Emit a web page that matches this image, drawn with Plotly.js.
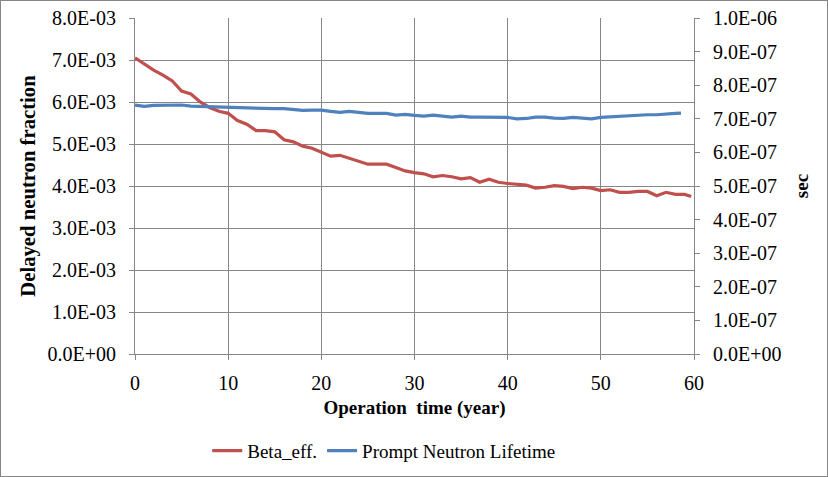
<!DOCTYPE html>
<html>
<head>
<meta charset="utf-8">
<script src="https://cdn.plot.ly/plotly-3.0.1.min.js"></script>
<style>
html,body{margin:0;padding:0;background:#fff;}
#wrap{width:828px;height:477px;box-sizing:border-box;border:1px solid #868686;position:relative;overflow:hidden;}
#chart{position:absolute;left:-1px;top:-1px;width:828px;height:477px;}
</style>
</head>
<body>
<div id="wrap"><div id="chart"></div></div>
<script>
// Beta_eff. (delayed neutron fraction), left axis
const betaYears = [0,1,2,3,4,5,6,7,8,9,10,11,12,13,14,15,16,17,18,19,20,21,22,23,24,25,26,27,28,29,30,31,32,33,34,35,36,37,38,39,40,41,42,43,44,45,46,47,48,49,50,51,52,53,54,55,56,57,58,59,59.7];
const betaEff = [7.05e-3,6.90e-3,6.76e-3,6.64e-3,6.50e-3,6.26e-3,6.19e-3,6.00e-3,5.87e-3,5.78e-3,5.73e-3,5.56e-3,5.47e-3,5.32e-3,5.32e-3,5.29e-3,5.10e-3,5.05e-3,4.95e-3,4.90e-3,4.80e-3,4.71e-3,4.73e-3,4.66e-3,4.58e-3,4.52e-3,4.52e-3,4.52e-3,4.44e-3,4.36e-3,4.32e-3,4.29e-3,4.22e-3,4.25e-3,4.22e-3,4.17e-3,4.20e-3,4.09e-3,4.16e-3,4.09e-3,4.06e-3,4.04e-3,4.02e-3,3.95e-3,3.97e-3,4.01e-3,3.99e-3,3.94e-3,3.97e-3,3.95e-3,3.89e-3,3.91e-3,3.85e-3,3.85e-3,3.87e-3,3.87e-3,3.77e-3,3.85e-3,3.80e-3,3.80e-3,3.75e-3];
// Prompt neutron lifetime (sec), right axis
const lifeYears = [0,1,2,3,4,5,6,7,8,9,10,11,12,13,14,15,16,17,18,19,20,21,22,23,24,25,26,27,28,29,30,31,32,33,34,35,36,37,38,39,40,41,42,43,44,45,46,47,48,49,50,51,52,53,54,55,56,57,58,58.6];
const lifetime = [7.41e-7,7.37e-7,7.40e-7,7.41e-7,7.41e-7,7.41e-7,7.38e-7,7.37e-7,7.36e-7,7.34e-7,7.33e-7,7.33e-7,7.33e-7,7.32e-7,7.29e-7,7.30e-7,7.30e-7,7.27e-7,7.25e-7,7.26e-7,7.26e-7,7.22e-7,7.19e-7,7.22e-7,7.19e-7,7.16e-7,7.16e-7,7.16e-7,7.11e-7,7.13e-7,7.10e-7,7.08e-7,7.11e-7,7.08e-7,7.05e-7,7.08e-7,7.05e-7,7.05e-7,7.05e-7,7.05e-7,7.04e-7,7.00e-7,7.01e-7,7.05e-7,7.05e-7,7.02e-7,7.01e-7,7.04e-7,7.03e-7,7.00e-7,7.04e-7,7.06e-7,7.08e-7,7.10e-7,7.11e-7,7.12e-7,7.12e-7,7.15e-7,7.16e-7,7.17e-7];

const xTickVals = [0,10,20,30,40,50,60];
const yLeftTickVals = [0,0.001,0.002,0.003,0.004,0.005,0.006,0.007,0.008];
const yLeftTickText = ["0.0E+00","1.0E-03","2.0E-03","3.0E-03","4.0E-03","5.0E-03","6.0E-03","7.0E-03","8.0E-03"];
const yRightTickVals = [0,1e-7,2e-7,3e-7,4e-7,5e-7,6e-7,7e-7,8e-7,9e-7,1e-6];
const yRightTickText = ["0.0E+00","1.0E-07","2.0E-07","3.0E-07","4.0E-07","5.0E-07","6.0E-07","7.0E-07","8.0E-07","9.0E-07","1.0E-06"];

const FONT = '"Liberation Serif", "Times New Roman", serif';
const FS = 19;
const TFS = 20;
const GRID = '#868686';

const traces = [
  {x: betaYears, y: betaEff, type:'scatter', mode:'lines', name:'Beta_eff.',
   line:{color:'#C0504D', width:3.2}, yaxis:'y'},
  {x: lifeYears, y: lifetime, type:'scatter', mode:'lines', name:'Prompt Neutron Lifetime',
   line:{color:'#4F81BD', width:3.2}, yaxis:'y2'}
];

const layout = {
  width:828, height:477,
  margin:{l:135, r:134, t:18, b:123, autoexpand:false},
  paper_bgcolor:'rgba(0,0,0,0)', plot_bgcolor:'#fff',
  font:{family:FONT, size:FS, color:'#000'},
  showlegend:true,
  legend:{orientation:'h', x:0.445, xanchor:'center', y:-0.288, yanchor:'middle',
          font:{family:FONT, size:FS, color:'#000'}, itemwidth:30, tracegroupgap:0},
  xaxis:{range:[0,60], tickvals:xTickVals, ticktext:xTickVals.map(String),
         showgrid:true, gridcolor:GRID, gridwidth:1, showline:true, linecolor:GRID, linewidth:1,
         ticks:'outside', ticklen:5, tickcolor:GRID, zeroline:false, ticklabelstandoff:6,
         tickfont:{family:FONT, size:TFS, color:'#000'},
         title:{text:'<b>Operation\u00A0\u00A0time (year)</b>', font:{family:FONT, size:FS, color:'#000'}, standoff:7}},
  yaxis:{range:[0,0.008], tickvals:yLeftTickVals, ticktext:yLeftTickText,
         showgrid:true, gridcolor:GRID, gridwidth:1, showline:true, linecolor:GRID, linewidth:1,
         ticks:'outside', ticklen:5, tickcolor:GRID, zeroline:false, ticklabelstandoff:9,
         tickfont:{family:FONT, size:TFS, color:'#000'},
         title:{text:'<b>Delayed neutron fraction</b>', font:{family:FONT, size:20.7, color:'#000'}, standoff:6}},
  yaxis2:{range:[0,1e-6], tickvals:yRightTickVals, ticktext:yRightTickText, overlaying:'y', side:'right',
         showgrid:false, showline:true, linecolor:GRID, linewidth:1,
         ticks:'outside', ticklen:5, tickcolor:GRID, zeroline:false, ticklabelstandoff:9,
         tickfont:{family:FONT, size:TFS, color:'#000'},
         title:{text:'<b>sec</b>', font:{family:FONT, size:FS, color:'#000'}, standoff:14}}
};

Plotly.newPlot('chart', traces, layout, {displayModeBar:false, staticPlot:true});
</script>
</body>
</html>
